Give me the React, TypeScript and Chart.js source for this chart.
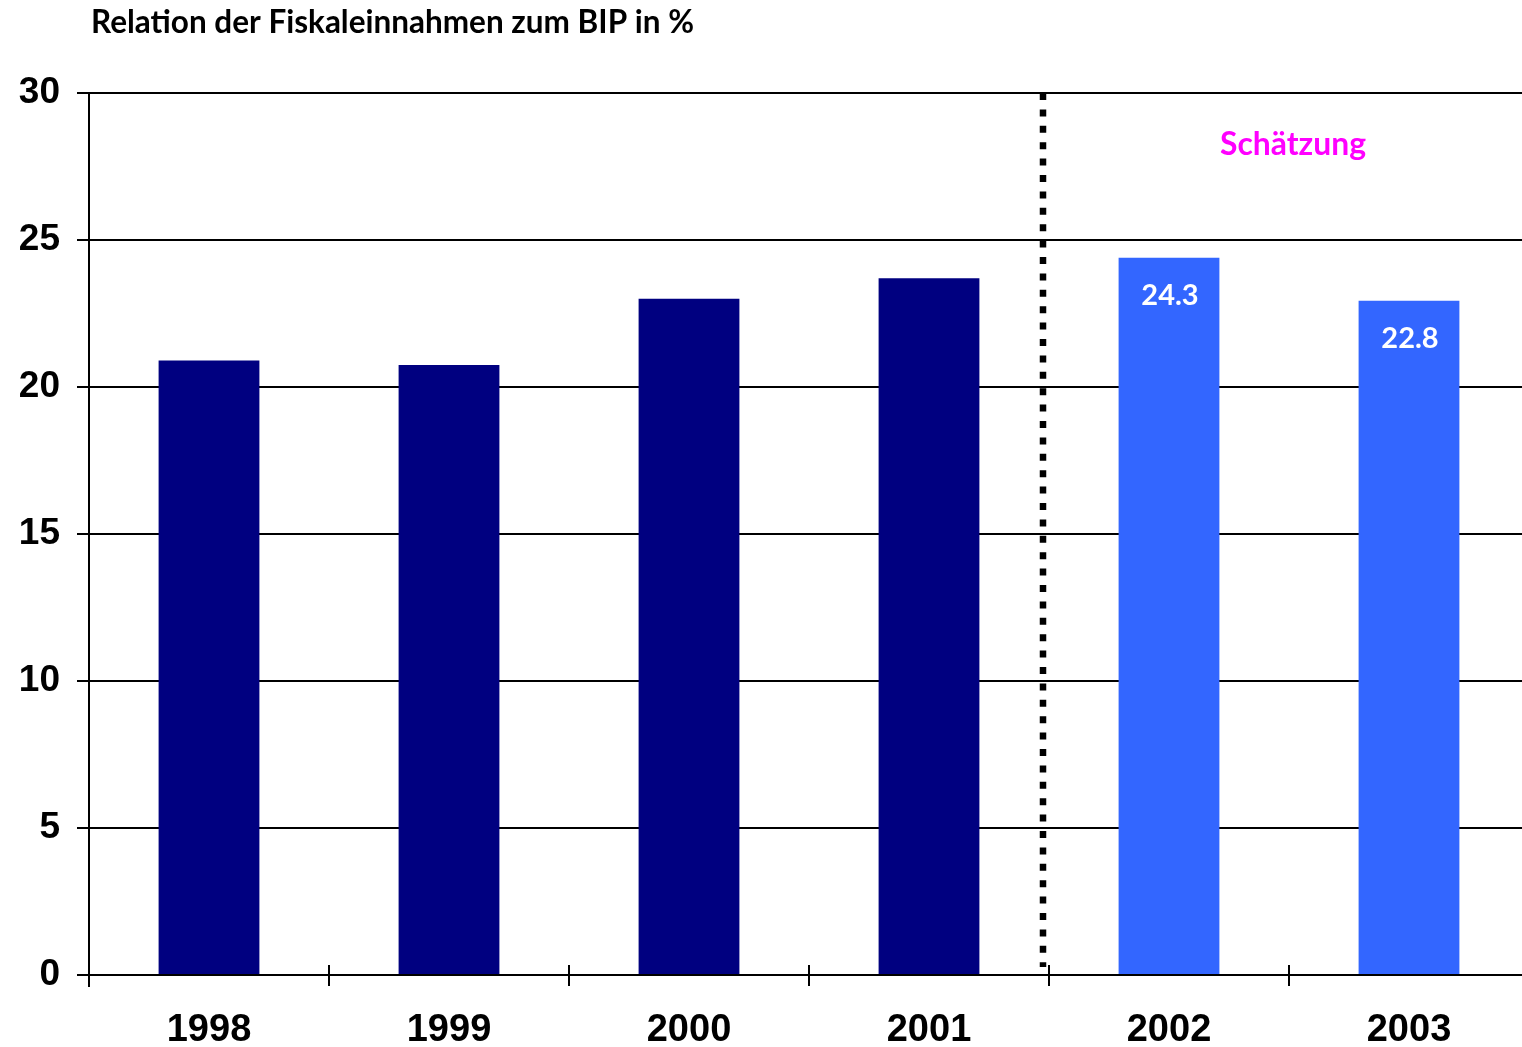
import React, { useEffect, useRef } from "react";
import { Chart, registerables } from "chart.js";

Chart.register(...registerables);

const categories = ["1998", "1999", "2000", "2001", "2002", "2003"];
const values = [20.9, 20.75, 23.0, 23.7, 24.4, 22.93];
const valueLabels = ["", "", "", "", "24.3", "22.8"];
const isEstimate = [false, false, false, false, true, true];
const yTicks = [0, 5, 10, 15, 20, 25, 30];
const titleText = "Relation der Fiskaleinnahmen zum BIP in %";
const estimateText = "Schätzung";
const separatorIndex = 3.475;

const actualColor = "#000080";
const estimateColor = "#3366FF";

export default function App() {
  const ref = useRef<HTMLCanvasElement | null>(null);

  useEffect(() => {
    if (!ref.current) return;

    const overlay = {
      id: "overlay",
      afterDatasetsDraw(chart: any) {
        const ctx = chart.ctx;
        const xs = chart.scales.x;
        const ys = chart.scales.y;
        const area = chart.chartArea;
        ctx.save();
        // x-axis tick marks at category boundaries
        ctx.strokeStyle = "#000";
        ctx.lineWidth = 2;
        for (let i = 1; i < categories.length; i++) {
          const bx = (xs.getPixelForValue(i - 1) + xs.getPixelForValue(i)) / 2;
          ctx.beginPath();
          ctx.moveTo(Math.round(bx), area.bottom - 10);
          ctx.lineTo(Math.round(bx), area.bottom + 11);
          ctx.stroke();
        }
        // y axis extension below
        ctx.beginPath();
        ctx.moveTo(area.left, area.bottom);
        ctx.lineTo(area.left, area.bottom + 12);
        ctx.stroke();

        // separator dotted line
        const sx = xs.getPixelForValue(separatorIndex);
        ctx.setLineDash([7, 9.4]);
        ctx.lineWidth = 6.5;
        ctx.beginPath();
        ctx.moveTo(sx, ys.getPixelForValue(30));
        ctx.lineTo(sx, area.bottom - 8);
        ctx.stroke();
        ctx.setLineDash([]);

        // value labels on estimate bars
        ctx.fillStyle = "#fff";
        ctx.font = "bold 29px Lato";
        ctx.textAlign = "center";
        ctx.textBaseline = "middle";
        const meta = chart.getDatasetMeta(0);
        valueLabels.forEach((t, i) => {
          if (!t) return;
          const el = meta.data[i];
          ctx.fillText(t, el.x + 1, el.y + 38);
        });

        // estimate label
        ctx.fillStyle = "#FF00FF";
        ctx.font = "bold 32px Lato";
        ctx.textBaseline = "alphabetic";
        const ex = (xs.getPixelForValue(4) + xs.getPixelForValue(5)) / 2;
        ctx.fillText(estimateText, ex + 4, 155, 146);

        // title
        ctx.fillStyle = "#000";
        ctx.font = "bold 31.5px Lato";
        ctx.textAlign = "left";
        ctx.fillText(titleText, 91, 33, 603);
        ctx.restore();
      },
    };

    const chart = new Chart(ref.current, {
      type: "bar",
      data: {
        labels: categories,
        datasets: [
          {
            data: values,
            backgroundColor: isEstimate.map((e) => (e ? estimateColor : actualColor)),
            borderWidth: 0,
            barPercentage: 0.84,
            categoryPercentage: 0.5,
          },
        ],
      },
      options: {
        responsive: false,
        animation: false,
        layout: { padding: { top: 93, right: 0, left: 0, bottom: 0 } },
        plugins: {
          legend: { display: false },
          tooltip: { enabled: false },
          title: { display: false },
        },
        scales: {
          x: {
            offset: true,
            grid: { display: false, drawTicks: false },
            border: { display: true, color: "#000", width: 2 },
            ticks: {
              color: "#000",
              font: { family: "Liberation Sans, Arial", size: 38, weight: "bold" },
              padding: 33,
              maxRotation: 0,
            },
            afterFit(scale: any) {
              scale.height = 72;
            },
          },
          y: {
            min: 0,
            max: 30,
            afterBuildTicks(scale: any) {
              scale.ticks = yTicks.map((v) => ({ value: v }));
            },
            grid: { color: "#000", lineWidth: 2, tickLength: 12, drawTicks: true },
            border: { display: true, color: "#000", width: 2 },
            ticks: {
              color: "#000",
              font: { family: "Liberation Sans, Arial", size: 37, weight: "bold" },
              padding: 17,
            },
            afterFit(scale: any) {
              scale.width = 89;
            },
          },
        },
      },
      plugins: [overlay],
    });

    return () => chart.destroy();
  }, []);

  return (
    <div
      style={{
        position: "fixed",
        left: 0,
        top: 0,
        width: 1522,
        height: 1047,
        overflow: "hidden",
        background: "#fff",
      }}
    >
      <canvas ref={ref} width={1529} height={1047} style={{ display: "block", width: 1529, height: 1047 }} />
    </div>
  );
}
